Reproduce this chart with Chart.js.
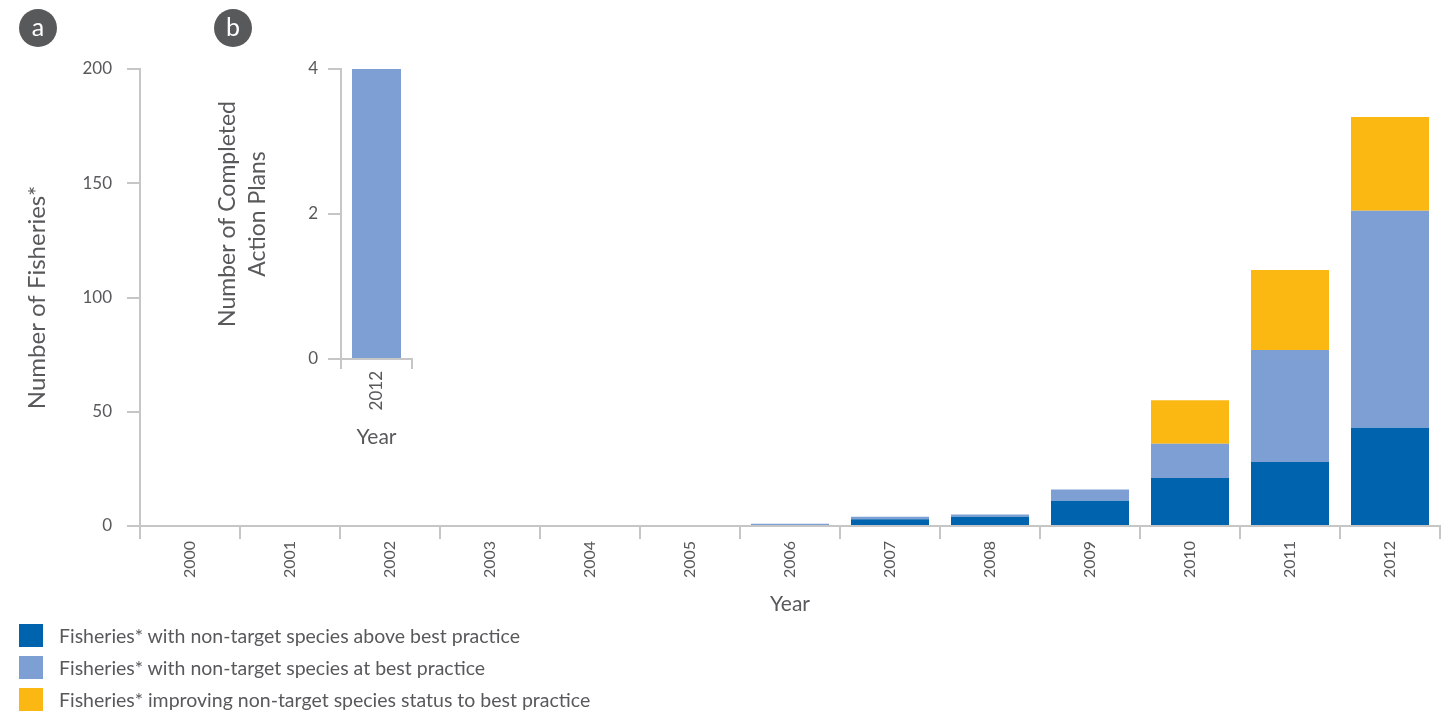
<!DOCTYPE html>
<html lang="en">
<head>
  <meta charset="UTF-8">
  <title>Fisheries non-target species</title>
  <script src="https://cdn.jsdelivr.net/npm/chart.js"></script>
  <style>
    body {
      margin: 0;
      background: #fff;
      font-family: 'Lato', sans-serif;
      color: #58595b;
    }
    .wrap {
      position: relative;
      width: 1449px;
      height: 712px;
      overflow: hidden;
    }
    #mainChart {
      position: absolute;
      left: 0;
      top: 0;
    }
    #insetChart {
      position: absolute;
      left: 190px;
      top: 40px;
    }
    .badge {
      position: absolute;
      width: 38px;
      height: 38px;
      border-radius: 50%;
      background: #58595b;
      color: #fff;
      font-size: 25px;
      line-height: 34px;
      text-align: center;
    }
    .legend {
      position: absolute;
      left: 19px;
      top: 624px;
    }
    .legend div {
      height: 32px;
      display: flex;
      align-items: flex-start;
    }
    .legend span.sw {
      width: 24px;
      height: 23px;
      margin-right: 16px;
    }
    .legend span.tx {
      font-size: 19.5px;
      line-height: 23px;
    }
  </style>
</head>
<body>
  <div class="wrap">
    <canvas id="mainChart" width="1449" height="625"></canvas>
    <canvas id="insetChart" width="240" height="420"></canvas>
    <div class="badge" style="left:19px;top:9px;">a</div>
    <div class="badge" style="left:214px;top:9px;">b</div>
    <div class="legend" id="legend"></div>
  </div>

  <script>
    // Panel a data
    const years = ['2000', '2001', '2002', '2003', '2004', '2005', '2006', '2007', '2008', '2009', '2010', '2011', '2012'];
    const aboveBest = [0, 0, 0, 0, 0, 0, 0, 3, 4, 11, 21, 28, 43];
    const atBest = [0, 0, 0, 0, 0, 0, 1, 1, 1, 5, 15, 49, 95];
    const improving = [0, 0, 0, 0, 0, 0, 0, 0, 0, 0, 19, 35, 41];

    const seriesNames = [
      'Fisheries* with non-target species above best practice',
      'Fisheries* with non-target species at best practice',
      'Fisheries* improving non-target species status to best practice'
    ];
    const seriesColors = ['#0063ae', '#7e9fd3', '#fbb813'];

    // Panel b data
    const insetYears = ['2012'];
    const actionPlans = [4];

    const axisGrey = '#c6c6c6';
    const textGrey = '#58595b';
    Chart.defaults.font.family = "'Lato', sans-serif";
    Chart.defaults.color = textGrey;

    new Chart(document.getElementById('mainChart'), {
      type: 'bar',
      data: {
        labels: years,
        datasets: [aboveBest, atBest, improving].map((d, i) => ({
          label: seriesNames[i],
          data: d,
          backgroundColor: seriesColors[i],
          barPercentage: 0.78,
          categoryPercentage: 1
        }))
      },
      options: {
        responsive: false,
        animation: false,
        layout: { padding: { top: 69, right: 9, left: 0, bottom: 0 } },
        plugins: { legend: { display: false }, tooltip: { enabled: false } },
        scales: {
          x: {
            stacked: true,
            border: { color: axisGrey, width: 2 },
            grid: { drawOnChartArea: false, color: axisGrey, lineWidth: 2, tickLength: 13 },
            ticks: { minRotation: 90, maxRotation: 90, padding: 2, font: { size: 16 } },
            title: { display: true, text: 'Year', font: { size: 21 }, padding: { top: 0, bottom: 8 } },
            afterFit: s => { s.height = 99; }
          },
          y: {
            stacked: true,
            min: 0,
            max: 200,
            border: { color: axisGrey, width: 2 },
            grid: { drawOnChartArea: false, color: axisGrey, lineWidth: 2, tickLength: 13 },
            ticks: { stepSize: 50, padding: 15, font: { size: 17 } },
            title: { display: true, text: 'Number of Fisheries*', font: { size: 24 }, padding: { top: 23, bottom: 0 } },
            afterFit: s => { s.width = 140; }
          }
        }
      }
    });

    new Chart(document.getElementById('insetChart'), {
      type: 'bar',
      data: {
        labels: insetYears,
        datasets: [{
          label: 'Completed action plans',
          data: actionPlans,
          backgroundColor: '#7e9fd3',
          barPercentage: 0.69,
          categoryPercentage: 1
        }]
      },
      options: {
        responsive: false,
        animation: false,
        layout: { padding: { top: 29, right: 18, left: 0, bottom: 0 } },
        plugins: { legend: { display: false }, tooltip: { enabled: false } },
        scales: {
          x: {
            border: { color: axisGrey, width: 2 },
            grid: { drawOnChartArea: false, color: axisGrey, lineWidth: 2, tickLength: 10 },
            ticks: { minRotation: 90, maxRotation: 90, padding: 2, font: { size: 17 } },
            title: { display: true, text: 'Year', font: { size: 21 }, padding: { top: 0, bottom: 10 } },
            afterFit: s => { s.height = 101; }
          },
          y: {
            min: 0,
            max: 4,
            border: { color: axisGrey, width: 2 },
            grid: { drawOnChartArea: false, color: axisGrey, lineWidth: 2, tickLength: 13 },
            ticks: { stepSize: 2, padding: 10, font: { size: 17 } },
            title: {
              display: true,
              text: ['Number of Completed', 'Action Plans'],
              font: { size: 23, lineHeight: 1.3 },
              padding: { top: 23, bottom: 0 }
            },
            afterFit: s => { s.width = 151; }
          }
        }
      }
    });

    // legend as plain html rows
    const legend = document.getElementById('legend');
    seriesNames.forEach((name, i) => {
      const row = document.createElement('div');
      row.innerHTML = '<span class="sw" style="background:' + seriesColors[i] + '"></span><span class="tx">' + name + '</span>';
      legend.appendChild(row);
    });
  </script>
</body>
</html>
